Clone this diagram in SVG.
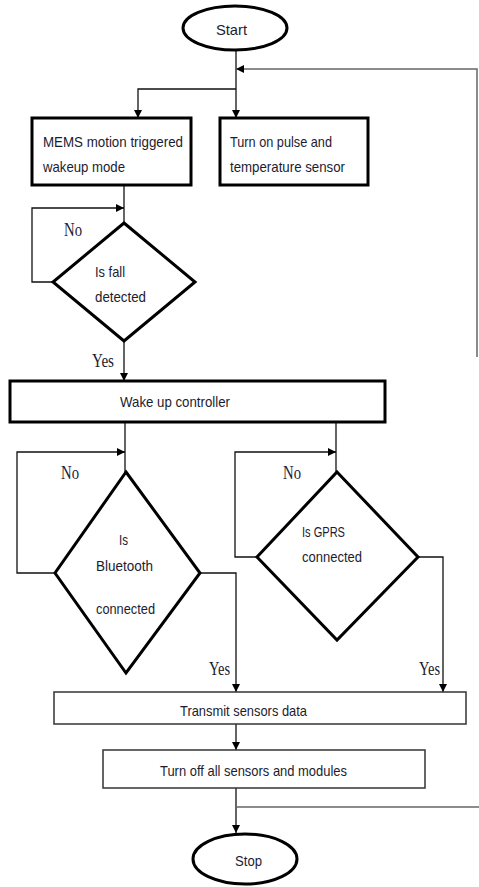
<svg xmlns="http://www.w3.org/2000/svg" width="479" height="887" viewBox="0 0 479 887">
<style>
.thick{fill:#fff;stroke:#000;stroke-width:3}
.thin{fill:#fff;stroke:#333;stroke-width:1.5}
.c{fill:none;stroke:#111;stroke-width:1.3}
.g{fill:none;stroke:#666;stroke-width:1.5}
.t{font-family:"Liberation Sans",Arial,sans-serif;font-size:14.5px;fill:#1c1c30}
.r{font-family:"Liberation Serif","Times New Roman",serif;font-size:18px;fill:#1c1c30}
</style>
<defs>
<marker id="a" viewBox="0 0 10 10" refX="10" refY="5" markerWidth="8" markerHeight="8" markerUnits="userSpaceOnUse" orient="auto">
<path d="M0,0 L10,5 L0,10 z" fill="#000"/>
</marker>
</defs>
<g id="connectors">
<path class="c" d="M236,50 V118" marker-end="url(#a)"/>
<path class="c" d="M236,89 H138 V118" marker-end="url(#a)"/>
<path class="g" d="M477,357 V69 H236" marker-end="url(#a)"/>
<path class="c" d="M124,185 V223"/>
<path class="c" d="M53,282 H32 V208 H124" marker-end="url(#a)"/>
<path class="c" d="M124,341 V381" marker-end="url(#a)"/>
<path class="c" d="M125,423 V472"/>
<path class="c" d="M336,423 V472"/>
<path class="c" d="M55,573 H17 V452 H125" marker-end="url(#a)"/>
<path class="c" d="M257,557 H235 V452 H336" marker-end="url(#a)"/>
<path class="c" d="M200,573 H236 V692" marker-end="url(#a)"/>
<path class="c" d="M418,557 H443 V692" marker-end="url(#a)"/>
<path class="c" d="M236,724 V750" marker-end="url(#a)"/>
<path class="c" d="M236,788 V833" marker-end="url(#a)"/>
<path class="g" d="M236,807 H479"/>
</g>
<g id="start">
<ellipse class="thick" cx="235" cy="28" rx="52" ry="22"/>
<text class="t" x="216" y="35" font-size="15" textLength="31" lengthAdjust="spacingAndGlyphs">Start</text>
</g>
<g id="mems">
<rect class="thick" x="32" y="118" width="159" height="67"/>
<text class="t" x="43" y="147" textLength="140" lengthAdjust="spacingAndGlyphs">MEMS motion triggered</text>
<text class="t" x="43" y="172" textLength="82" lengthAdjust="spacingAndGlyphs">wakeup mode</text>
</g>
<g id="pulse">
<rect class="thick" x="220" y="118" width="148" height="67"/>
<text class="t" x="230" y="147" textLength="102" lengthAdjust="spacingAndGlyphs">Turn on pulse and</text>
<text class="t" x="230" y="172" textLength="115" lengthAdjust="spacingAndGlyphs">temperature sensor</text>
</g>
<g id="fall">
<path class="thick" d="M124,223 L195,282 L124,341 L53,282 Z"/>
<text class="t" x="95" y="277" textLength="30" lengthAdjust="spacingAndGlyphs">Is fall</text>
<text class="t" x="95" y="302" textLength="51" lengthAdjust="spacingAndGlyphs">detected</text>
<text class="r" x="64" y="236" textLength="18" lengthAdjust="spacingAndGlyphs">No</text>
<text class="r" x="92" y="367" textLength="22" lengthAdjust="spacingAndGlyphs">Yes</text>
</g>
<g id="wake">
<rect class="thick" x="10" y="381" width="375" height="41"/>
<text class="t" x="120" y="407" textLength="110" lengthAdjust="spacingAndGlyphs">Wake up controller</text>
</g>
<g id="bluetooth">
<path class="thick" d="M126,472 L200,573 L126,673 L55,573 Z"/>
<text class="t" x="119" y="545" textLength="9" lengthAdjust="spacingAndGlyphs">Is</text>
<text class="t" x="96" y="571" textLength="57" lengthAdjust="spacingAndGlyphs">Bluetooth</text>
<text class="t" x="96" y="614" textLength="59" lengthAdjust="spacingAndGlyphs">connected</text>
<text class="r" x="61" y="479" textLength="18" lengthAdjust="spacingAndGlyphs">No</text>
<text class="r" x="209" y="675" textLength="21" lengthAdjust="spacingAndGlyphs">Yes</text>
</g>
<g id="gprs">
<path class="thick" d="M337,472 L418,557 L337,640 L257,557 Z"/>
<text class="t" x="302" y="537" textLength="43" lengthAdjust="spacingAndGlyphs">Is GPRS</text>
<text class="t" x="302" y="562" textLength="60" lengthAdjust="spacingAndGlyphs">connected</text>
<text class="r" x="283" y="479" textLength="18" lengthAdjust="spacingAndGlyphs">No</text>
<text class="r" x="419" y="675" textLength="21" lengthAdjust="spacingAndGlyphs">Yes</text>
</g>
<g id="transmit">
<rect class="thin" x="54" y="692" width="412" height="32"/>
<text class="t" x="180" y="716" textLength="127" lengthAdjust="spacingAndGlyphs">Transmit sensors data</text>
</g>
<g id="turnoff">
<rect class="thin" x="103" y="750" width="322" height="38"/>
<text class="t" x="160" y="776" textLength="187" lengthAdjust="spacingAndGlyphs">Turn off all sensors and modules</text>
</g>
<g id="stop">
<ellipse class="thick" cx="245" cy="859" rx="52" ry="25"/>
<text class="t" x="235" y="866" font-size="15" textLength="27" lengthAdjust="spacingAndGlyphs">Stop</text>
</g>
</svg>
